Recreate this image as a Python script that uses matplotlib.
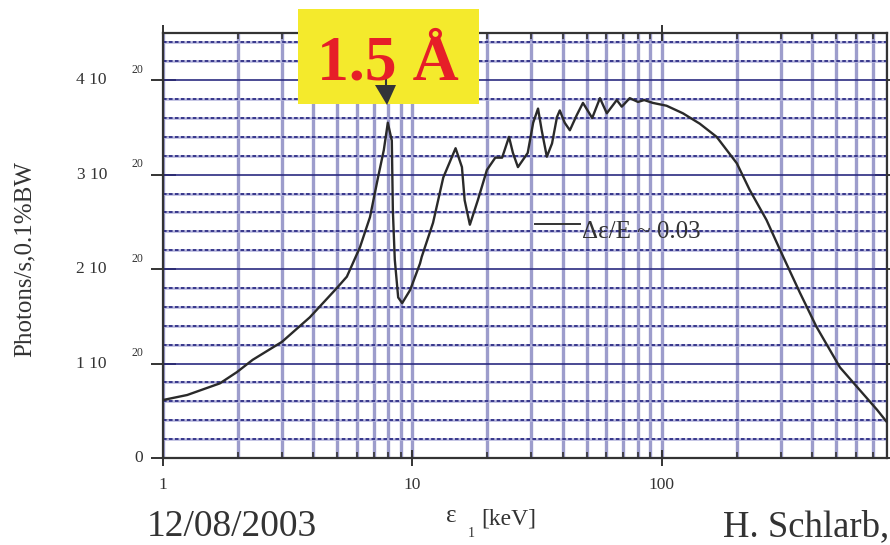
import numpy as np
import matplotlib
matplotlib.use("Agg")
import matplotlib.pyplot as plt
from matplotlib.lines import Line2D
from matplotlib.patches import Rectangle, Polygon
from matplotlib.ticker import FixedLocator, NullFormatter

# Undulator photon flux spectrum (flux in units of 1e20 photons/s/0.1%BW)
energy_keV = [1.0, 1.25, 1.69, 1.98, 2.29, 3.0, 3.88, 4.98, 5.46, 6.16, 6.76,
              7.28, 7.68, 7.97, 8.27, 8.35, 8.5, 8.77, 9.1, 9.8, 10.73, 10.9,
              12.1, 13.3, 14.9, 15.8, 16.2, 17.0, 18.3, 19.9, 21.5, 22.9, 24.4,
              25.3, 26.5, 29.0, 30.5, 31.9, 33.0, 34.6, 36.3, 38.0, 39.0, 40.8,
              42.8, 45.6, 48.3, 52.6, 56.5, 60.2, 66.0, 69.1, 74.4, 80.3, 85.0,
              92.0, 104.5, 121.5, 142, 166, 200, 225, 263, 302, 358, 417, 518,
              622, 730, 805]
flux_e20 = [0.614, 0.667, 0.79, 0.91, 1.04, 1.23, 1.49, 1.80, 1.92, 2.23, 2.55,
            2.97, 3.26, 3.55, 3.36, 2.62, 2.10, 1.70, 1.64, 1.78, 2.06, 2.13,
            2.49, 2.97, 3.28, 3.08, 2.73, 2.47, 2.73, 3.05, 3.18, 3.18, 3.40,
            3.23, 3.08, 3.23, 3.55, 3.70, 3.47, 3.19, 3.33, 3.61, 3.68, 3.55,
            3.47, 3.63, 3.76, 3.60, 3.81, 3.65, 3.79, 3.72, 3.81, 3.77, 3.79,
            3.76, 3.73, 3.65, 3.54, 3.40, 3.12, 2.84, 2.52, 2.17, 1.75, 1.39, 0.96,
            0.72, 0.51, 0.37]

x_major = [1, 10, 100]
x_major_labels = ["1", "10", "100"]
y_major = [0, 1, 2, 3, 4]
y_major_labels = ["0", "1 10", "2 10", "3 10", "4 10"]
y_exponent = "20"

SERIF = ["Liberation Serif", "DejaVu Serif"]
TXT = "#333333"
plt.rcParams["font.family"] = SERIF

W, H = 890, 545
fig = plt.figure(figsize=(W / 100, H / 100), dpi=100)
fig.patch.set_facecolor("white")

L, R, T, B = 163, 887, 33, 458
ax = fig.add_axes([L / W, 1 - B / H, (R - L) / W, (B - T) / H])

ax.set_xscale("log")
ax.set_xlim(1, 800)
ax.set_ylim(0, 4.5)

# grids
x_minor = [m * d for d in (1, 10, 100) for m in range(2, 10) if m * d <= 800]
ax.xaxis.set_major_locator(FixedLocator(x_major))
ax.xaxis.set_minor_locator(FixedLocator(x_minor))
ax.xaxis.set_minor_formatter(NullFormatter())
ax.set_xticklabels(x_major_labels)
ax.set_axisbelow(True)
ax.grid(which="both", axis="x", color="#9d9dcc", lw=2.4)

y_minor = [v / 5 for v in range(1, 23) if v % 5 != 0]
for yv in y_minor:
    ax.axhline(yv, color="#b4b4dc", lw=1.8, zorder=0.6)
    ax.axhline(yv, color="#2d2d85", lw=1.3, ls=(0, (2.0, 1.3)), zorder=0.7)
for yv in y_major[1:]:
    ax.axhline(yv, color="#2b2b80", lw=1.2, zorder=0.8)

ax.yaxis.set_major_locator(FixedLocator(y_major))
ax.yaxis.set_minor_locator(FixedLocator(y_minor))
ax.set_yticklabels([])

for s in ax.spines.values():
    s.set_color(TXT)
    s.set_linewidth(1.6)

ax.tick_params(which="major", axis="x", direction="inout", length=12, width=1.4,
               color=TXT, labelsize=12.5, labelcolor=TXT, pad=8,
               top=True, bottom=True)
ax.tick_params(which="minor", axis="x", direction="in", length=4, width=1.2,
               color=TXT, top=True, bottom=True)
ax.tick_params(which="major", axis="y", direction="inout", length=18, width=1.4,
               color=TXT, left=True, right=True)
ax.tick_params(which="minor", axis="y", direction="in", length=4, width=1.2,
               color=TXT, left=True, right=True)

# spectrum
ax.plot(energy_keV, flux_e20, color="#2a2a2a", lw=1.7, zorder=3)

# y tick labels "n 10" with exponent
ytr = ax.get_yaxis_transform()
for v, lab in zip(y_major, y_major_labels):
    if v == 0:
        ax.text((143 - L) / (R - L), v, lab, transform=ytr, ha="right",
                va="center", fontsize=12.5, color=TXT)
    else:
        ax.text((107 - L) / (R - L), v, lab, transform=ytr, ha="right",
                va="center", fontsize=12.5, color=TXT)
        ax.text((143 - L) / (R - L), v + 0.11, y_exponent, transform=ytr,
                ha="right", va="center", fontsize=8.5, color=TXT)

fig.text(25 / W, 1 - 259 / H, "Photons/s,0.1%BW", rotation=90, ha="center",
         va="center", fontsize=18, color=TXT)

# x label: epsilon with subscript 1
fig.text(446 / W, 1 - 522 / H, "ε", ha="left", va="baseline", fontsize=18, color=TXT)
fig.text(468 / W, 1 - 537 / H, "1", ha="left", va="baseline", fontsize=10, color=TXT)
fig.text(481 / W, 1 - 524 / H, "[keV]", ha="left", va="baseline", fontsize=17, color=TXT)

# footer
fig.text(147 / W, 1 - 544 / H, "12/08/2003", ha="left", va="bottom",
         fontsize=27, color=TXT)
fig.text(723 / W, 1 - 544 / H, "H. Schlarb,", ha="left", va="bottom",
         fontsize=26.5, color=TXT)

# legend entry
fig.add_artist(Line2D([535 / W, 580 / W], [1 - 224 / H] * 2, color=TXT, lw=1.4))
fig.text(582 / W, 1 - 238 / H, "Δε/E ~ 0.03", ha="left", va="baseline",
         fontsize=18, color=TXT)

# wavelength callout
fig.add_artist(Rectangle((298 / W, 1 - 104 / H), 181 / W, 95 / H,
                         transform=fig.transFigure, facecolor="#f4ea2c",
                         edgecolor="none", zorder=5))
fig.text(388 / W, 1 - 80 / H, "1.5 Å", ha="center", va="baseline", fontsize=46,
         fontweight="bold", color="#e61e28", zorder=6)
fig.add_artist(Line2D([386 / W, 386 / W], [1 - 78 / H, 1 - 88 / H],
                      color="#333338", lw=1.5, zorder=6))
fig.add_artist(Polygon([(375 / W, 1 - 85 / H), (396 / W, 1 - 85 / H),
                        (387 / W, 1 - 105 / H)], closed=True,
                       transform=fig.transFigure, facecolor="#333338",
                       edgecolor="none", zorder=7))

fig.savefig("out.png", dpi=100)
